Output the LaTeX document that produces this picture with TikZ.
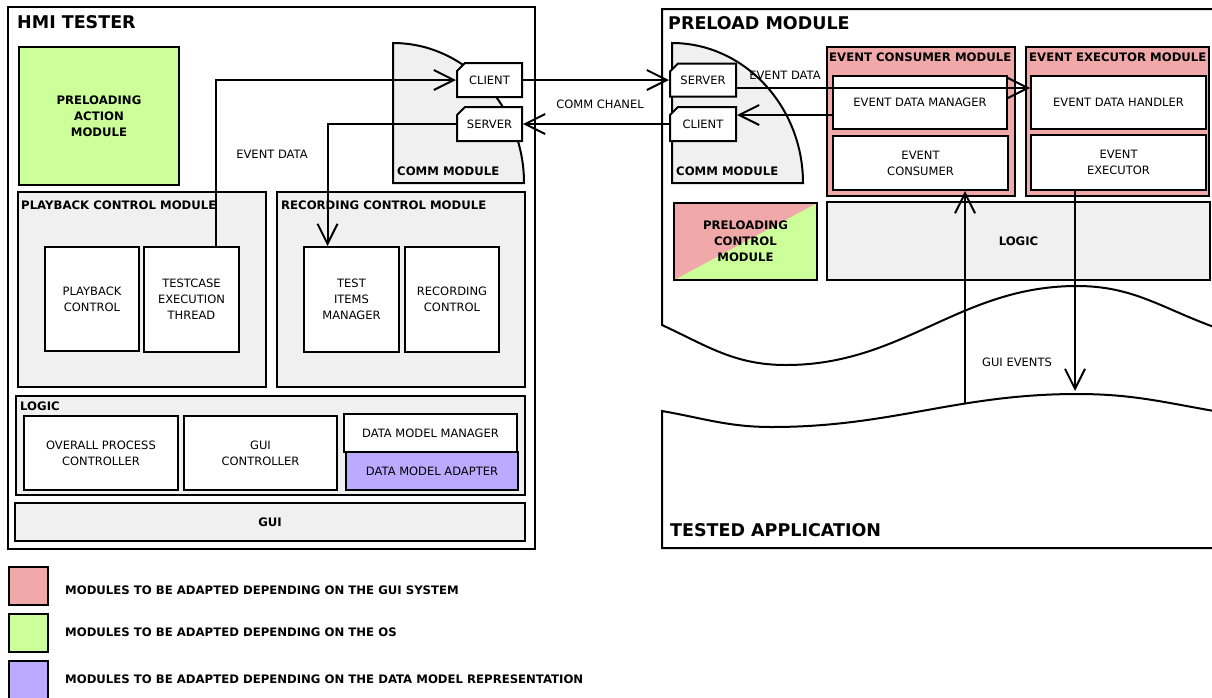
\documentclass[tikz,border=0pt]{standalone}
\usepackage{fontspec}
\setmainfont{DejaVu Sans}
\usetikzlibrary{arrows.meta,calc,shapes.misc}

\definecolor{guipink}{RGB}{241,168,168}
\definecolor{osgreen}{RGB}{204,255,153}
\definecolor{dmpurple}{RGB}{187,170,255}
\definecolor{panel}{RGB}{240,240,240}

\newcommand{\boxfont}{\fontsize{11.5}{16}\selectfont}
\newcommand{\keyfont}{\fontsize{11.7}{16}\selectfont\bfseries}
\newcommand{\headfont}{\fontsize{17.5}{20}\selectfont\bfseries}

\tikzset{
  box/.style={draw, line width=2pt, fill=white, anchor=north west, inner sep=0pt, align=center, font=\boxfont},
  grp/.style={box, fill=panel},
  lbl/.style={anchor=base west, inner sep=0pt, font=\keyfont},
  ttl/.style={anchor=base west, inner sep=0pt, font=\headfont},
  sock/.style={box, anchor=west, chamfered rectangle, chamfered rectangle corners=north west,
    chamfered rectangle xsep=4pt, chamfered rectangle ysep=4pt},
  wire/.style={line width=2pt},
  arr/.style={wire, -{Straight Barb[length=20pt,width=20pt]}},
}

\begin{document}
\begin{tikzpicture}[x=1pt, y=-1pt]
    \useasboundingbox (0,0) rectangle (1212,697);

    % HMI tester side
    \node[box, minimum width=527pt, minimum height=542pt] (hmi) at (7,6) {};
    \node[ttl] (hmittl) at (17,28) {HMI TESTER};
    \node[box, fill=osgreen, font=\keyfont, minimum width=160pt, minimum height=138pt] (pam) at (18,46) {PRELOADING\\ACTION\\MODULE};

    \filldraw[wire, fill=panel] (393,183) -- (393,43) .. controls (465,43) and (524,106) .. (524,183) -- cycle;
    \node[lbl] (cmlbl1) at (397,175) {COMM MODULE};
    \node[sock, minimum width=65pt, minimum height=34pt] (cliL) at (456,80) {CLIENT};
    \node[sock, minimum width=65pt, minimum height=34pt] (srvL) at (456,124) {SERVER};

    \node[grp, minimum width=248pt, minimum height=195pt] (pbm) at (17,191) {};
    \node[lbl] (pbmlbl) at (21,209) {PLAYBACK CONTROL MODULE};
    \node[box, minimum width=94pt, minimum height=104pt] (pbc) at (44,246) {PLAYBACK\\CONTROL};
    \node[box, minimum width=95pt, minimum height=105pt] (thr) at (143,246) {TESTCASE\\EXECUTION\\THREAD};

    \node[grp, minimum width=248pt, minimum height=195pt] (rcm) at (276,191) {};
    \node[lbl] (rcmlbl) at (281,209) {RECORDING CONTROL MODULE};
    \node[box, minimum width=95pt, minimum height=105pt] (tim) at (303,246) {TEST\\ITEMS\\MANAGER};
    \node[box, minimum width=94pt, minimum height=105pt] (rcc) at (404,246) {RECORDING\\CONTROL};

    \node[grp, minimum width=509pt, minimum height=99pt] (lgL) at (15,395) {};
    \node[lbl] (lgLlbl) at (20,410) {LOGIC};
    \node[box, minimum width=154pt, minimum height=74pt] (opc) at (23,415) {OVERALL PROCESS\\CONTROLLER};
    \node[box, minimum width=153pt, minimum height=74pt] (guic) at (183,415) {GUI\\CONTROLLER};
    \node[box, minimum width=173pt, minimum height=38pt] (dmm) at (343,413) {DATA MODEL MANAGER};
    \node[box, fill=dmpurple, minimum width=172pt, minimum height=38pt] (dma) at (345,451) {DATA MODEL ADAPTER};

    \node[grp, font=\keyfont, minimum width=510pt, minimum height=38pt] (gui) at (14,502) {GUI};

    % preload module and tested application
    \draw[wire] (1214,9) -- (662,9) -- (662,325)
    to [out=-25,in=180] (786,365)
    to [out=0,in=180] (1077,286)
    to [out=0,in=160] (1214,327);
    \node[ttl] (plttl) at (668,29) {PRELOAD MODULE};

    \draw[wire] (1214,548) -- (662,548) -- (662,411)
    to [out=-10,in=180] (772,427)
    to [out=0,in=180] (1077,394)
    to [out=0,in=170] (1214,411);
    \node[ttl] (tattl) at (670,536) {TESTED APPLICATION};

    \filldraw[wire, fill=panel] (672,183) -- (672,43) .. controls (744,43) and (803,106) .. (803,183) -- cycle;
    \node[lbl] (cmlbl2) at (676,175) {COMM MODULE};
    \node[sock, minimum width=66pt, minimum height=33pt] (srvR) at (669,80) {SERVER};
    \node[sock, minimum width=66pt, minimum height=34pt] (cliR) at (669,124) {CLIENT};

    \node[box, fill=guipink, minimum width=188pt, minimum height=149pt] (ecm) at (826,46) {};
    \node[lbl] (ecmlbl) at (829,61) {EVENT CONSUMER MODULE};
    \node[box, minimum width=174pt, minimum height=53pt] (edm) at (832,75) {EVENT DATA MANAGER};
    \node[box, minimum width=175pt, minimum height=54pt] (evc) at (832,135) {EVENT\\CONSUMER};

    \node[box, fill=guipink, minimum width=183pt, minimum height=149pt] (eem) at (1025,46) {};
    \node[lbl] (eemlbl) at (1029,61) {EVENT EXECUTOR MODULE};
    \node[box, minimum width=175pt, minimum height=53pt] (edh) at (1030,75) {EVENT DATA HANDLER};
    \node[box, minimum width=175pt, minimum height=55pt] (evx) at (1030,134) {EVENT\\EXECUTOR};

    \node[grp, font=\keyfont, minimum width=383pt, minimum height=78pt] (lgR) at (826,201) {LOGIC};
    \node[box, fill=osgreen, font=\keyfont, minimum width=143pt, minimum height=77pt,
      path picture={\fill[guipink] (path picture bounding box.south west)
        -- (path picture bounding box.north west) -- (path picture bounding box.north east) -- cycle;}]
      (pcm) at (673,202) {PRELOADING\\CONTROL\\MODULE};

    % connectors
    \draw[arr] ($(thr.north)+(24,0)$) |- (cliL.west);
    \draw[arr] (srvL.west) -| ($(tim.north)+(-24,0)$);
    \draw[arr] (cliL.east) -- (srvR.west);
    \draw[arr] (cliR.west) -- (srvL.east);

    \coordinate (edR) at ($(srvR.east)+(0,8)$);
    \draw[arr] (edR) -- (edR -| edh.west);
    \coordinate (edB) at ($(cliR.east)+(0,-9)$);
    \draw[arr] (edB -| edm.west) -- (edB);

    \coordinate (tapp) at (965,404);
    \draw[arr] (tapp) -- (tapp |- evc.south);
    \coordinate (gev) at (1075,391);
    \draw[arr] (gev |- evx.south) -- (gev);

    \node[font=\boxfont] (ed1) at (272,154) {EVENT DATA};
    \node[font=\boxfont] (cch) at (600,104) {COMM CHANEL};
    \node[font=\boxfont] (ed2) at (785,75) {EVENT DATA};
    \node[font=\boxfont] (gevlbl) at (1017,362) {GUI EVENTS};

    % legend
    \node[box, fill=guipink, minimum width=39pt, minimum height=38pt] (key1) at (8,566) {};
    \node[lbl] (key1txt) at (65,594) {MODULES TO BE ADAPTED DEPENDING ON THE GUI SYSTEM};
    \node[box, fill=osgreen, minimum width=39pt, minimum height=38pt] (key2) at (8,613) {};
    \node[lbl] (key2txt) at (65,636) {MODULES TO BE ADAPTED DEPENDING ON THE OS};
    \node[box, fill=dmpurple, minimum width=39pt, minimum height=40pt] (key3) at (8,660) {};
    \node[lbl] (key3txt) at (65,683) {MODULES TO BE ADAPTED DEPENDING ON THE DATA MODEL REPRESENTATION};

\end{tikzpicture}
\end{document}
